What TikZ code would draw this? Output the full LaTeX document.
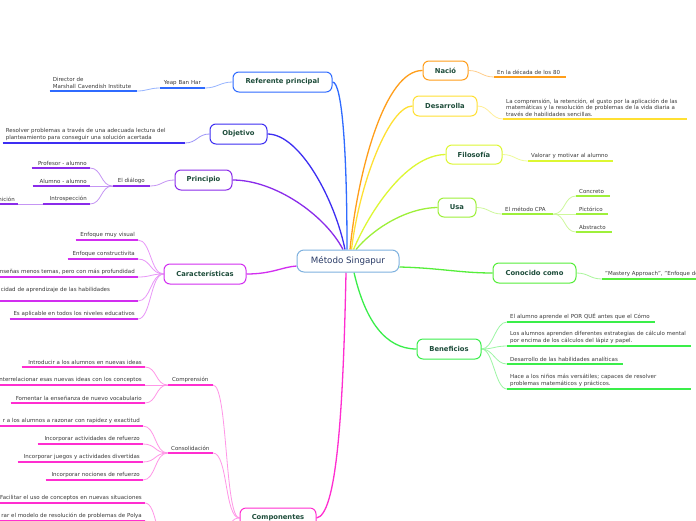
\documentclass[tikz,border=0pt]{standalone}
\usepackage{fontspec}
\setmainfont{DejaVu Sans}
\usetikzlibrary{calc}
\pgfdeclarelayer{bg}
\pgfsetlayers{bg,main}
\definecolor{refC}{HTML}{2F6BFF}
\definecolor{objC}{HTML}{3D2EF2}
\definecolor{prinC}{HTML}{8A2BEA}
\definecolor{charC}{HTML}{D22EF0}
\definecolor{compC}{HTML}{FF2ED0}
\definecolor{nacC}{HTML}{FF9E1A}
\definecolor{desC}{HTML}{FFE033}
\definecolor{filC}{HTML}{DDF733}
\definecolor{usaC}{HTML}{9EF03A}
\definecolor{conC}{HTML}{55EE3A}
\definecolor{benC}{HTML}{3AEE4A}
\definecolor{cenC}{HTML}{7FB2DF}
\definecolor{cenT}{HTML}{2A3B66}
\definecolor{topT}{HTML}{1E4D3B}
\definecolor{subT}{HTML}{3A3A3A}
\newcommand\subfont{\fontsize{5.5}{6.6}\selectfont}
\tikzset{
  mainnode/.style={draw=cenC, line width=1pt, rounded corners=7pt, fill=white,
    minimum width=102pt, minimum height=22pt, inner sep=0pt,
    font=\fontsize{8.7}{10}\selectfont, text=cenT},
  topic/.style={draw=#1, line width=1pt, rounded corners=6pt, fill=white,
    minimum height=20pt, inner sep=0pt,
    font=\bfseries\fontsize{6.8}{8}\selectfont, text=topT},
  mainc/.style={draw=#1, line width=1.3pt},
  subc/.style={draw=#1!50!white, line width=0.8pt},
  ul/.style={draw=#1, line width=1.6pt},
  sub/.style={inner xsep=3pt, inner ysep=2.3pt, font=\subfont, text=subT},
  subL/.style={sub, anchor=south east, text width=#1, align=right},
  subLl/.style={sub, anchor=south east, text width=#1, align=left},
  subC/.style={sub, anchor=south east, text width=#1, align=center},
  subR/.style={sub, anchor=south west, text width=#1, align=left}
}
\begin{document}
\begin{tikzpicture}[x=1pt,y=-1pt]
\useasboundingbox (0,0) rectangle (696,520);
\begin{pgfonlayer}{bg}
\fill[white] (0,0) rectangle (696,520);
\end{pgfonlayer}

% central and topic nodes
\node[mainnode] (center) at (348,261) {Método Singapur};
\node[topic=refC, minimum width=99pt] (ref) at (282.5,82) {Referente principal};
\node[topic=objC, minimum width=57pt] (obj) at (238.5,134) {Objetivo};
\node[topic=prinC, minimum width=57pt] (prin) at (203.5,180) {Principio};
\node[topic=charC, minimum width=82pt] (charc) at (205,274) {Características};
\node[topic=compC, minimum width=76pt] (comp) at (278,518) {Componentes};
\node[topic=nacC, minimum width=45pt, minimum height=19pt] (nacio) at (445.5,70.5) {Nació};
\node[topic=desC, minimum width=64pt] (desa) at (445,106) {Desarrolla};
\node[topic=filC, minimum width=56pt, minimum height=19pt] (filo) at (474,154.5) {Filosofía};
\node[topic=usaC, minimum width=38pt, minimum height=19pt] (usa) at (457,207.5) {Usa};
\node[topic=conC, minimum width=83pt] (cono) at (534.5,273) {Conocido como};
\node[topic=benC, minimum width=64pt] (benef) at (449,349) {Beneficios};

% left side subtopics
\node[subC=39pt] (yeap) at (205,88) {Yeap Ban Har};
\node[subLl=81pt] (dir) at (137,91) {Director de\\Marshall Cavendish Institute};
\node[subLl=176pt] (objs) at (185,143) {Resolver problemas a través de una adecuada lectura del\\planteamiento para conseguir una solución acertada};
\node[subC=31pt] (dial) at (150,186) {El diálogo};
\node[subL=52pt] (prof) at (90,168) {Profesor - alumno};
\node[subL=51pt] (alum) at (90,186) {Alumno - alumno};
\node[subL=41pt] (intro) at (90,204) {Introspección};
\node[subL=24pt] (nic) at (18,204) {nición};

\node[subL=56pt] (car1) at (138,240) {Enfoque muy visual};
\node[subL=64pt] (car2) at (138,259) {Enfoque constructivita};
\node[subL=200pt] (car3) at (138,277) {enseñas menos temas, pero con más profundidad};
\node[subLl=134pt] (car4) at (138,301) {cidad de aprendizaje de las habilidades\\\mbox{}};
\node[subL=122pt] (car5) at (138,319) {Es aplicable en todos los niveles educativos};

\node[subC=39pt] (compr) at (213,385) {Comprensión};
\node[subL=117pt] (c1) at (145,367) {Introducir a los alumnos en nuevas ideas};
\node[subL=200pt] (c2) at (145,385) {Interrelacionar esas nuevas ideas con los conceptos};
\node[subL=128pt] (c3) at (145,403) {Fomentar la enseñanza de nuevo vocabulario};
\node[subC=39pt] (consol) at (213,453) {Consolidación};
\node[subL=200pt] (d1) at (143,426) {r a los alumnos a razonar con rapidez y exactitud};
\node[subL=99pt] (d2) at (143,444) {Incorporar actividades de refuerzo};
\node[subL=119pt] (d3) at (143,462) {Incorporar juegos y actividades divertidas};
\node[subL=91pt] (d4) at (143,480) {Incorporar nociones de refuerzo};
\coordinate (aplicR) at (213,545);
\coordinate (aplicL) at (168,545);
\node[subL=200pt] (e1) at (145,503) {Facilitar el uso de conceptos en nuevas situaciones};
\node[subL=200pt] (e2) at (145,521) {rar el modelo de resolución de problemas de Polya};

% right side subtopics
\node[subR=66pt] (n80) at (494,77) {En la década de los 80};
\node[subR=178pt] (desc) at (503,119) {La comprensión, la retención, el gusto por la aplicación de las\\matemáticas y la resolución de problemas de la vida diaria a\\través de habilidades sencillas.};
\node[subR=79pt] (filc) at (528,161) {Valorar y motivar al alumno};
\node[subR=45pt] (cpa) at (502,214) {El método CPA};
\node[subR=28pt] (conc) at (576,196) {Concreto};
\node[subR=26pt] (pict) at (576,214) {Pictórico};
\node[subR=30pt] (abst) at (576,232) {Abstracto};
\node[subR=200pt] (mast) at (602,279) {"Mastery Approach", "Enfoque de};
\node[subR=142pt] (b1) at (507,322) {El alumno aprende el POR QUÉ antes que el Cómo};
\node[subR=178pt] (b2) at (507,346) {Los alumnos aprenden diferentes estrategias de cálculo mental\\por encima de los cálculos del lápiz y papel.};
\node[subR=110pt] (b3) at (507,364) {Desarrollo de las habilidades analíticas};
\node[subR=178pt] (b4) at (507,389) {Hace a los niños más versátiles; capaces de resolver\\problemas matemáticos y prácticos.};

% underlines
\foreach \n/\c in {yeap/refC,dir/refC,objs/objC,dial/prinC,prof/prinC,alum/prinC,intro/prinC,nic/prinC,
  car1/charC,car2/charC,car3/charC,car4/charC,car5/charC,
  compr/compC,c1/compC,c2/compC,c3/compC,consol/compC,d1/compC,d2/compC,d3/compC,d4/compC,e1/compC,e2/compC,
  n80/nacC,desc/desC,filc/filC,cpa/usaC,conc/usaC,pict/usaC,abst/usaC,mast/conC,b1/benC,b2/benC,b3/benC,b4/benC}
  {\draw[ul=\c] (\n.south west) -- (\n.south east);}

\begin{pgfonlayer}{bg}
% main connectors
\draw[mainc=refC] (ref.east) .. controls (342,82) and (347,150) .. ([xshift=-1pt]center.north);
\draw[mainc=objC] (obj.east) .. controls (300,134) and (335,200) .. ([xshift=-3pt]center.north);
\draw[mainc=prinC] (prin.east) .. controls (275,180) and (325,215) .. ([xshift=-5pt]center.north);
\draw[mainc=nacC] (nacio.west) .. controls (385,70) and (358,170) .. ([xshift=2pt]center.north);
\draw[mainc=desC] (desa.west) .. controls (390,106) and (360,180) .. ([xshift=3.5pt]center.north);
\draw[mainc=filC] (filo.west) .. controls (405,155) and (368,215) .. ([xshift=5.5pt]center.north);
\draw[mainc=usaC] (usa.west) .. controls (405,208) and (372,230) .. ([xshift=8pt]center.north);
\draw[mainc=charC] (charc.east) .. controls (272,274) and (282,267) .. ([yshift=-5pt]center.west);
\draw[mainc=conC] ([yshift=-6pt]center.east) .. controls (440,268) and (460,273) .. (cono.west);
\draw[mainc=benC] ([xshift=6pt]center.south) .. controls (365,320) and (385,349) .. (benef.west);
\draw[mainc=compC] ([xshift=-2pt]center.south) .. controls (343,420) and (336,515) .. (comp.east);

% sub connectors
\draw[subc=refC] (ref.west) .. controls +(-12,0) and +(12,0) .. (yeap.south east);
\draw[subc=refC] (yeap.south west) .. controls +(-10,0) and +(10,0) .. (dir.south east);
\draw[subc=objC] (obj.west) .. controls +(-12,0) and +(12,0) .. (objs.south east);
\draw[subc=prinC] (prin.west) .. controls +(-12,0) and +(12,0) .. (dial.south east);
\foreach \n in {prof,alum,intro}
  \draw[subc=prinC] (dial.south west) .. controls +(-12,0) and +(12,0) .. (\n.south east);
\draw[subc=prinC] (intro.south west) .. controls +(-12,0) and +(12,0) .. (nic.south east);
\foreach \n in {car1,car2,car3,car4,car5}
  \draw[subc=charC] (charc.west) .. controls +(-13,0) and +(13,0) .. (\n.south east);
\foreach \n in {compr,consol}
  \draw[subc=compC] (comp.west) .. controls +(-15,0) and +(15,0) .. (\n.south east);
\draw[subc=compC] (comp.west) .. controls +(-15,0) and +(15,0) .. (aplicR);
\foreach \n in {c1,c2,c3}
  \draw[subc=compC] (compr.south west) .. controls +(-12,0) and +(12,0) .. (\n.south east);
\foreach \n in {d1,d2,d3,d4}
  \draw[subc=compC] (consol.south west) .. controls +(-13,0) and +(13,0) .. (\n.south east);
\foreach \n in {e1,e2}
  \draw[subc=compC] (aplicL) .. controls +(-12,0) and +(12,0) .. (\n.south east);
\draw[subc=nacC] (nacio.east) .. controls +(12,0) and +(-12,0) .. (n80.south west);
\draw[subc=desC] (desa.east) .. controls +(12,0) and +(-12,0) .. (desc.south west);
\draw[subc=filC] (filo.east) .. controls +(12,0) and +(-12,0) .. (filc.south west);
\draw[subc=usaC] (usa.east) .. controls +(12,0) and +(-12,0) .. (cpa.south west);
\foreach \n in {conc,pict,abst}
  \draw[subc=usaC] (cpa.south east) .. controls +(12,0) and +(-12,0) .. (\n.south west);
\draw[subc=conC] (cono.east) .. controls +(12,0) and +(-12,0) .. (mast.south west);
\foreach \n in {b1,b2,b3,b4}
  \draw[subc=benC] (benef.east) .. controls +(12,0) and +(-12,0) .. (\n.south west);
\end{pgfonlayer}
\end{tikzpicture}
\end{document}
